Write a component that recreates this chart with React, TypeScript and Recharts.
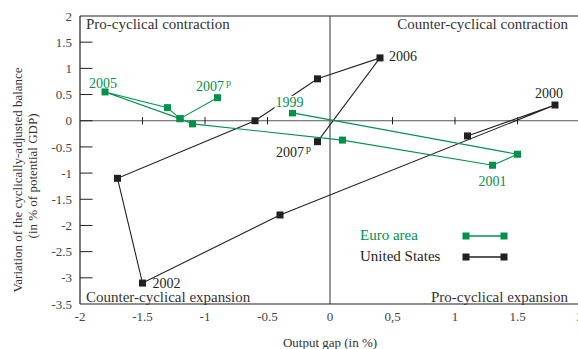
import {
  ScatterChart,
  Scatter,
  XAxis,
  YAxis,
  ReferenceLine,
  ReferenceDot,
} from "recharts";

const euroYears = ["1999", "2000", "2001", "2002", "2003", "2004", "2005", "2006", "2007", "2007p"];
const euroGap = [-0.3, 1.5, 1.3, 0.1, -1.1, -1.2, -1.8, -1.3, -1.2, -0.9];
const euroBalance = [0.15, -0.64, -0.85, -0.37, -0.06, 0.04, 0.55, 0.25, 0.04, 0.44];

const usYears = ["1999", "2000", "2001", "2002", "2003", "2004", "2005", "2006", "2007p"];
const usGap = [1.1, 1.8, -0.4, -1.5, -1.7, -0.6, -0.1, 0.4, -0.1];
const usBalance = [-0.29, 0.3, -1.8, -3.1, -1.1, 0.0, 0.8, 1.2, -0.4];

const euroShown = ["1999", "2001", "2005", "2007p"];
const usShown = ["2000", "2002", "2006", "2007p"];

const xTicks = [-2, -1.5, -1, -0.5, 0, 0.5, 1, 1.5, 2];
const yTicks = [2, 1.5, 1, 0.5, 0, -0.5, -1, -1.5, -2, -2.5, -3, -3.5];

const GREEN = "#00924a";
const BLACK = "#231f20";
const FONT = "Liberation Serif";

// label offsets from the point (px)
const labelPos: Record<string, { dx: number; dy: number; bg?: boolean }> = {
  "euro-1999": { dx: -3, dy: -10, bg: true },
  "euro-2001": { dx: 0, dy: 16 },
  "euro-2005": { dx: -2, dy: -8 },
  "euro-2007p": { dx: -4, dy: -11 },
  "us-2000": { dx: -6, dy: -12 },
  "us-2002": { dx: 24, dy: 0 },
  "us-2006": { dx: 23, dy: -1 },
  "us-2007p": { dx: -24, dy: 11 },
};

const euroData = euroYears.map((year, i) => ({ year, x: euroGap[i], y: euroBalance[i] }));
const usData = usYears.map((year, i) => ({ year, x: usGap[i], y: usBalance[i] }));

function Square(props: any) {
  const { cx, cy, fill } = props;
  return <rect x={cx - 3.5} y={cy - 3.5} width={7} height={7} fill={fill} />;
}

function yearLabel(key: string, year: string, color: string) {
  const pos = labelPos[key];
  return (props: any) => {
    const { cx, cy } = props;
    const x = cx + pos.dx;
    const y = cy + pos.dy;
    const proj = year.endsWith("p");
    return (
      <g>
        {pos.bg && <rect x={x - 15} y={y - 7} width={30} height={14} fill="#fff" />}
        <text
          x={x}
          y={y}
          textAnchor="middle"
          dominantBaseline="central"
          fill={color}
          fontSize={14}
          style={{ fontFamily: FONT }}
        >
          {proj ? "2007" : year}
          {proj && (
            <tspan dx={2} dy={-5} fontSize={10}>
              p
            </tspan>
          )}
        </text>
      </g>
    );
  };
}

function LegendBox() {
  const rows = [
    { name: "Euro area", color: GREEN },
    { name: "United States", color: BLACK },
  ];
  return (
    <div style={{ position: "absolute", left: 360, top: 225, fontFamily: FONT, fontSize: 15 }}>
      {rows.map((r) => (
        <div key={r.name} style={{ display: "flex", alignItems: "center", height: 21 }}>
          <span style={{ color: r.color, width: 102 }}>{r.name}</span>
          <svg width={46} height={10}>
            <line x1={4} y1={5} x2={42} y2={5} stroke={r.color} strokeWidth={1.3} />
            <rect x={0.5} y={1.5} width={7} height={7} fill={r.color} />
            <rect x={38.5} y={1.5} width={7} height={7} fill={r.color} />
          </svg>
        </div>
      ))}
    </div>
  );
}

function YTitle(props: any) {
  const { viewBox } = props;
  const cx = viewBox.x + 17;
  return (
    <g fontSize={13} fill="#333" style={{ fontFamily: FONT }}>
      <text x={cx} y={180} textAnchor="middle" dominantBaseline="central" transform={`rotate(-90 ${cx} 180)`}>
        Variation of the cyclically-adjusted balance
      </text>
      <text x={cx + 15} y={176} textAnchor="middle" dominantBaseline="central" transform={`rotate(-90 ${cx + 15} 176)`}>
        (in % of potential GDP)
      </text>
    </g>
  );
}

const quadrant: React.CSSProperties = {
  position: "absolute",
  fontFamily: FONT,
  fontSize: 15,
  color: "#333",
  lineHeight: "16px",
  whiteSpace: "nowrap",
};

const tickStyle = { fontSize: 13, fill: "#444", style: { fontFamily: FONT } };

export default function App() {
  return (
    <div style={{ position: "absolute", left: 0, top: 0, width: 578, height: 349, overflow: "hidden", background: "#fff", fontFamily: FONT }}>
      <ScatterChart width={590} height={349} margin={{ top: 16, right: 10, bottom: 0, left: 0 }} style={{ fontFamily: FONT }}>
        <XAxis
          type="number"
          dataKey="x"
          domain={[-2, 2]}
          ticks={xTicks}
          allowDataOverflow
          height={45}
          tickLine={false}
          axisLine={{ stroke: BLACK, strokeWidth: 1.2 }}
          tick={tickStyle}
          tickFormatter={(v: number) => (v === 0.5 ? "0,5" : String(v))}
          label={{ value: "Output gap (in %)", position: "insideBottom", offset: 2, fontSize: 13, fill: "#333" }}
        />
        <YAxis
          type="number"
          dataKey="y"
          domain={[-3.5, 2]}
          ticks={yTicks}
          allowDataOverflow
          width={80}
          tickLine={false}
          axisLine={{ stroke: BLACK, strokeWidth: 1.2 }}
          tick={tickStyle}
          label={<YTitle />}
        />
        <ReferenceLine y={2} stroke={BLACK} strokeWidth={1} />
        <ReferenceLine y={0} stroke="#555" strokeWidth={1.2} />
        <ReferenceLine x={0} stroke="#555" strokeWidth={1.2} />
        {yTicks
          .filter((t) => t < 2 && t > -3.5)
          .map((t) => (
            <ReferenceLine
              key={"yt" + t}
              segment={[
                { x: -2, y: t },
                { x: -1.9, y: t },
              ]}
              stroke={BLACK}
              strokeWidth={1}
            />
          ))}
        {xTicks
          .filter((t) => t !== 0 && t > -2 && t < 2)
          .map((t) => (
            <ReferenceLine
              key={"xt" + t}
              segment={[
                { x: t, y: -0.07 },
                { x: t, y: 0.07 },
              ]}
              stroke={BLACK}
              strokeWidth={1}
            />
          ))}
        <Scatter
          name="United States"
          data={usData}
          fill={BLACK}
          line={{ stroke: BLACK, strokeWidth: 1.1 }}
          lineType="joint"
          shape={<Square />}
          isAnimationActive={false}
        />
        <Scatter
          name="Euro area"
          data={euroData}
          fill={GREEN}
          line={{ stroke: GREEN, strokeWidth: 1.1 }}
          lineType="joint"
          shape={<Square />}
          isAnimationActive={false}
        />
        {euroData
          .filter((d) => euroShown.includes(d.year))
          .map((d) => (
            <ReferenceDot
              key={"e" + d.year}
              x={d.x}
              y={d.y}
              r={0}
              shape={yearLabel("euro-" + d.year, d.year, GREEN)}
            />
          ))}
        {usData
          .filter((d) => usShown.includes(d.year))
          .map((d) => (
            <ReferenceDot
              key={"u" + d.year}
              x={d.x}
              y={d.y}
              r={0}
              shape={yearLabel("us-" + d.year, d.year, BLACK)}
            />
          ))}
      </ScatterChart>
      <LegendBox />
      <div style={{ ...quadrant, left: 86, top: 16 }}>Pro-cyclical contraction</div>
      <div style={{ ...quadrant, right: 10, top: 16 }}>Counter-cyclical contraction</div>
      <div style={{ ...quadrant, left: 86, top: 289 }}>Counter-cyclical expansion</div>
      <div style={{ ...quadrant, right: 10, top: 289 }}>Pro-cyclical expansion</div>
    </div>
  );
}
